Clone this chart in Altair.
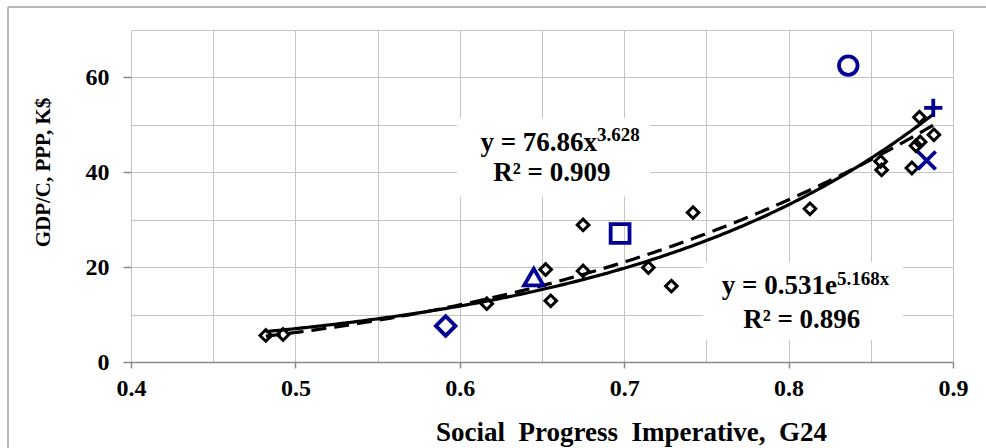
import altair as alt
import pandas as pd

# ---- data ----
black_x = [0.482, 0.4925, 0.6164, 0.6522, 0.6553, 0.675, 0.675, 0.7147, 0.7287,
           0.7419, 0.813, 0.856, 0.8566, 0.875, 0.8775, 0.880, 0.8796, 0.8884]
black_y = [5.6, 5.8, 12.3, 19.5, 12.9, 28.9, 19.2, 19.9, 16.0,
           31.5, 32.3, 42.3, 40.5, 40.9, 45.6, 46.4, 51.6, 47.9]

blue_name = ["diamond", "triangle", "square", "circle", "plus", "cross"]
blue_x = [0.5914, 0.645, 0.6975, 0.8363, 0.888, 0.884]
blue_y = [7.6, 17.9, 27.1, 62.5, 53.6, 42.5]

# trend-line equations shown on the chart
pow_coef = [76.86, 3.628]
exp_coef = [0.531, 5.168]
fit_range = [0.482, 0.8884]

# annotation texts and positions (data units)
eq_main_text = ["y = 76.86x", "y = 0.531e"]
eq_main_x = [0.6835, 0.8294]
eq_main_y = [46.2, 16.0]
eq_sup_text = ["3.628", "5.168x"]
eq_sup_y = [47.8, 17.6]
eq_r2_text = ["R\u00b2 = 0.909", "R\u00b2 = 0.896"]
eq_r2_x = [0.656, 0.808]
eq_r2_y = [39.8, 8.8]
box_x1 = [0.5983, 0.7479]
box_x2 = [0.7157, 0.8696]
box_y1 = [51.4, 21.05]
box_y2 = [34.9, 4.63]

x_grid = [0.4, 0.45, 0.5, 0.55, 0.6, 0.65, 0.7, 0.75, 0.8, 0.85, 0.9]
y_grid = [0, 10, 20, 30, 40, 50, 60, 70]

FONT = "Liberation Serif"
BLUE = "#000096"
GRID = "#c4c4c4"
AXIS = "#8a8a8a"

black_df = pd.DataFrame({"x": black_x, "y": black_y})
blue_df = pd.DataFrame({"x": blue_x, "y": blue_y, "m": blue_name})
main_df = pd.DataFrame({"x": eq_main_x, "y": eq_main_y, "t": eq_main_text})
sup_df = pd.DataFrame({"x": eq_main_x, "y": eq_sup_y, "t": eq_sup_text})
r2_df = pd.DataFrame({"x": eq_r2_x, "y": eq_r2_y, "t": eq_r2_text})
box_df = pd.DataFrame({"x": box_x1, "x2": box_x2, "y": box_y1, "y2": box_y2})

xscale = alt.Scale(domain=[0.4, 0.9], nice=False, zero=False)
yscale = alt.Scale(domain=[0, 70], nice=False)

x_major = "abs(datum.value*10 - round(datum.value*10)) < 0.001"
y_major = "datum.value % 20 == 0 && datum.value < 70"

x_axis = alt.Axis(
    values=x_grid, labelExpr=f"{x_major} ? format(datum.value, '.1f') : ''",
    grid=True, gridColor=GRID, gridWidth=1,
    domain=True, domainColor=AXIS, domainWidth=1.5,
    ticks=True, tickColor=AXIS, tickSize=6, tickWidth=1.5,
    tickOpacity={"condition": {"test": x_major, "value": 1}, "value": 0},
    labelFont=FONT, labelFontSize=24, labelFontWeight="bold", labelColor="black",
    labelPadding=8, labelFlush=False, labelOverlap=False,
    title="Social\u00a0 Progress\u00a0 Imperative,\u00a0 G24", titleFont=FONT, titleFontSize=27,
    titleFontWeight="bold", titleColor="black", titleX=500, titleY=70,
    titleBaseline="middle", titleAlign="center",
)
y_axis = alt.Axis(
    values=y_grid, labelExpr=f"{y_major} ? datum.label : ''",
    grid=True, gridColor=GRID, gridWidth=1,
    domain=False,
    ticks=True, tickColor=AXIS, tickSize=8, tickWidth=1.5,
    tickOpacity={"condition": {"test": y_major, "value": 1}, "value": 0},
    labelFont=FONT, labelFontSize=24, labelFontWeight="bold", labelColor="black",
    labelPadding=14, labelOverlap=False,
    title="GDP/C, PPP, K$", titleFont=FONT, titleFontSize=21, titleFontWeight="bold",
    titleColor="black", titleAngle=-90, titleX=-88, titleY=142,
    titleBaseline="middle", titleAlign="center",
)

X = alt.X("x:Q", scale=xscale, axis=x_axis)
Y = alt.Y("y:Q", scale=yscale, axis=y_axis)

boxes = alt.Chart(box_df).mark_rect(color="white").encode(x=X, x2="x2", y=Y, y2="y2")

txt_main = alt.Chart(main_df).mark_text(
    font=FONT, fontSize=27, fontWeight="bold", align="right", baseline="middle", color="black"
).encode(x=X, y=Y, text="t:N")

txt_sup = alt.Chart(sup_df).mark_text(
    font=FONT, fontSize=19, fontWeight="bold", align="left", baseline="middle", color="black"
).encode(x=X, y=Y, text="t:N")

txt_r2 = alt.Chart(r2_df).mark_text(
    font=FONT, fontSize=27, fontWeight="bold", align="center", baseline="middle", color="black"
).encode(x=X, y=Y, text="t:N")

black_pts = alt.Chart(black_df).mark_point(
    shape="diamond", size=135, strokeWidth=3, color="black", filled=False, opacity=1
).encode(x=X, y=Y)

seq = alt.sequence(fit_range[0], fit_range[1] + 0.0005, 0.002, as_="x")

# power fit drawn dashed, exponential fit drawn solid (as in the reference)
pow_line = alt.Chart(seq).transform_calculate(
    y=f"{pow_coef[0]} * pow(datum.x, {pow_coef[1]})"
).mark_line(color="black", strokeWidth=3.2, strokeDash=[15, 8]).encode(x=X, y=Y)

exp_line = alt.Chart(seq).transform_calculate(
    y=f"{exp_coef[0]} * exp({exp_coef[1]} * datum.x)"
).mark_line(color="black", strokeWidth=3.2).encode(x=X, y=Y)

blue_pts = alt.Chart(blue_df).mark_point(filled=False, color=BLUE, opacity=1).encode(
    x=X, y=Y,
    shape=alt.Shape("m:N", legend=None, scale=alt.Scale(
        domain=blue_name,
        range=["diamond", "triangle-up", "square", "circle",
               "M-1,0L1,0M0,-1L0,1", "M-1,-1L1,1M1,-1L-1,1"])),
    size=alt.Size("m:N", legend=None, scale=alt.Scale(
        domain=blue_name, range=[380, 320, 140, 200, 380, 300])),
    strokeWidth=alt.StrokeWidth("m:N", legend=None, scale=alt.Scale(
        domain=blue_name, range=[3.8, 3.8, 3.8, 3.8, 4.2, 4.2])),
)

dummy = pd.DataFrame({"a": [0]})
border_top = alt.Chart(dummy).mark_rule(color="#a0a0a0", strokeWidth=1.5).encode(
    x=alt.value(-123), x2=alt.value(860), y=alt.value(-23))
border_left = alt.Chart(dummy).mark_rule(color="#a0a0a0", strokeWidth=1.5).encode(
    x=alt.value(-123), y=alt.value(-23), y2=alt.value(425))

chart = alt.layer(
    boxes, black_pts, exp_line, pow_line, blue_pts, txt_main, txt_sup, txt_r2,
    border_top, border_left
).properties(
    width=822, height=332,
    padding={"left": 131, "top": 30, "right": 33, "bottom": 86},
    autosize=alt.AutoSizeParams(type="none"),
    background="white",
).configure_view(stroke=None)

chart.save("out.html", embed_options={"renderer": "svg", "actions": False})
